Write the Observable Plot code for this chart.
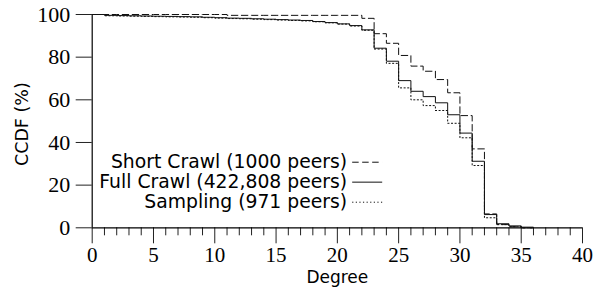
<!DOCTYPE html>
<html>
<head>
<meta charset="utf-8">
<script src="https://cdn.jsdelivr.net/npm/d3@7"></script>
<script src="https://cdn.jsdelivr.net/npm/@observablehq/plot@0.6"></script>
<style>
  html, body { margin: 0; padding: 0; background: #fff; }
  svg { display: block; overflow: visible; }
</style>
</head>
<body>
<div id="chart"></div>
<script>
// ---- data ----
const degrees = [0,1,2,3,4,5,6,7,8,9,10,11,12,13,14,15,16,17,18,19,20,21,22,23,24,25,26,27,28,29,30,31,32,33,34,35,36];
const shortCrawl = [100,100,100,100,100,100,100,100,100,100,100,99.6,99.6,99.6,99.6,99.6,99.6,99.6,99.6,99.6,99.6,99.6,98.2,91.0,86.5,80.8,75.8,73.4,69.5,63.3,52.6,37.0,6.5,1.5,0.5,0,0];
const fullCrawl = [100,99.6,99.5,99.4,99.3,99.2,99.1,99.0,98.9,98.7,98.5,98.3,98.2,98.0,97.8,97.6,97.4,97.2,96.7,96.2,95.6,94.8,92.8,84.2,78.1,69.0,64.0,61.5,58.6,53.0,44.4,31.2,6.2,1.9,0.9,0.3,0];
const sampling = [100,99.4,99.3,99.2,99.1,99.0,98.9,98.8,98.7,98.5,98.3,98.1,98.0,97.8,97.6,97.4,97.2,97.0,96.6,96.1,95.5,94.6,92.6,83.8,77.1,65.6,60.0,57.3,55.0,49.0,42.2,29.2,4.7,1.5,0.5,0,0];
const seriesNames = ["Short Crawl (1000 peers)", "Full Crawl (422,808 peers)", "Sampling (971 peers)"];
const xMajorTicks = [0,5,10,15,20,25,30,35,40];
const xMinorTicks = [1,2,3,4,6,7,8,9,11,12,13,14,16,17,18,19,21,22,23,24,26,27,28,29,31,32,33,34,36,37,38,39];
const yTicks = [0,20,40,60,80,100];
const xLabel = "Degree";
const yLabel = "CCDF (%)";

// ---- styles ----
const serif = "'Liberation Serif', 'DejaVu Serif', serif";
const sans = "'DejaVu Sans', sans-serif";
const lineColor = "#111";
const dashes = ["6.5,3.5", null, "1.2,2.4"];
const seriesValues = [shortCrawl, fullCrawl, sampling];

// legend placement (in data units)
const legendTextX = 20.8;
const legendLineX1 = 21.25, legendLineX2 = 23.7;
const legendRowsY = [30.75, 21.4, 12.0];

const lineMarks = seriesValues.map((vals, k) =>
  Plot.line(vals, {
    x: (d, i) => degrees[i], y: d => d,
    curve: "step-after", stroke: lineColor, strokeWidth: 1,
    strokeDasharray: dashes[k] || undefined
  })
);
const legendLines = seriesNames.map((n, k) =>
  Plot.ruleY([legendRowsY[k]], {
    x1: legendLineX1, x2: legendLineX2, stroke: lineColor, strokeWidth: 1,
    strokeDasharray: dashes[k] || undefined
  })
);

const chart = Plot.plot({
  width: 594, height: 287,
  marginLeft: 91.7, marginRight: 12, marginTop: 14, marginBottom: 59.7,
  x: {domain: [0, 40]},
  y: {domain: [0, 100]},
  style: {background: "white", color: "black"},
  marks: [
    Plot.axisY({ticks: yTicks, tickSize: 16, tickPadding: 6, fontSize: 22, fontFamily: serif, label: null, stroke: "#222"}),
    Plot.axisX({ticks: xMajorTicks, tickSize: 16, tickPadding: 3, fontSize: 21, fontFamily: serif, label: null, stroke: "#222"}),
    Plot.axisX({ticks: xMinorTicks, tickSize: 8, tickFormat: () => "", label: null, stroke: "#222"}),
    Plot.ruleX([0], {y1: 0, y2: 100, stroke: "black", strokeWidth: 1.2}),
    Plot.ruleY([0], {x1: 0, x2: 40, stroke: "black", strokeWidth: 1.2}),
    ...lineMarks,
    ...legendLines,
    Plot.text(seriesNames, {
      x: legendTextX, y: (d, i) => legendRowsY[i], text: d => d,
      textAnchor: "end", fontSize: 18.8, fontFamily: sans, fill: "black"
    }),
    Plot.text([xLabel], {frameAnchor: "bottom", lineAnchor: "middle", textAnchor: "middle", dy: 49.5, text: d => d, fontSize: 17, fontFamily: sans, fill: "black"}),
    Plot.text([yLabel], {frameAnchor: "left", textAnchor: "middle", lineAnchor: "middle", dx: -70, dy: 3, rotate: -90, text: d => d, fontSize: 17.5, fontFamily: sans, fill: "black"})
  ]
});
document.getElementById("chart").appendChild(chart);
</script>
</body>
</html>
